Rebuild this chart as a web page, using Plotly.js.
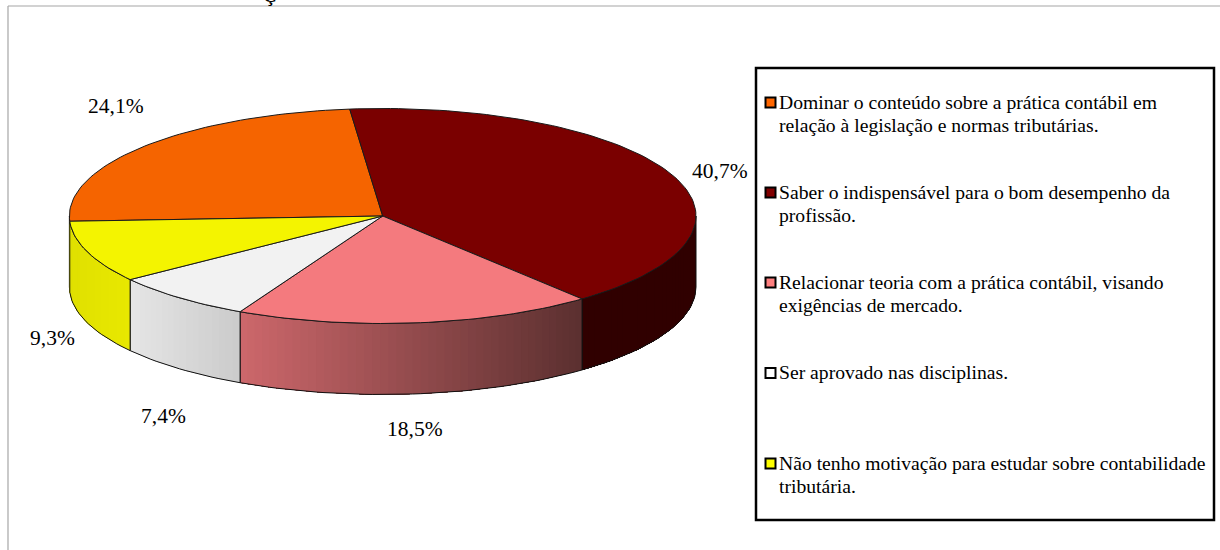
<!DOCTYPE html>
<html>
<head>
<meta charset="utf-8">
<script src="https://cdn.plot.ly/plotly-3.0.1.min.js"></script>
<style>html,body{margin:0;padding:0;background:#fff}#chart{width:1220px;height:550px}</style>
</head>
<body>
<div id="chart"></div>
<script>
// Data
var categories = [
  ["Dominar o conteúdo sobre a prática contábil em", "relação à legislação e normas tributárias."],
  ["Saber o indispensável para o bom desempenho da", "profissão."],
  ["Relacionar teoria com a prática contábil, visando", "exigências de mercado."],
  ["Ser aprovado nas disciplinas."],
  ["Não tenho motivação para estudar sobre contabilidade", "tributária."]
];
var values = [24.1, 40.7, 18.5, 7.4, 9.3];
var topColors = ["#F56400", "#7A0000", "#F47A7E", "#F2F2F2", "#F4F400"];
var keyColors = ["#FF6600", "#800000", "#FF8080", "#FFFFFF", "#FFFF00"];
var rimStart = [[240,100,0], [48,0,0], [206,104,108], [230,230,230], [224,224,0]];
var rimEnd = [[240,100,0], [48,0,0], [92,48,48], [204,204,204], [232,232,0]];

// Geometry of the tilted pie, in axis units (the axes span the page)
var CX = 382.7, CY = 216, RX = 313.3, RY = 107.5, DEPTH = 71, START = 267.2;
var labelPos = [[116,106],[720,171],[415,429],[163,416],[52,338]];
var legendY = [102.5,192.5,282.5,373,463.5];

function px(t){ return CX + RX*Math.sin(t*Math.PI/180); }
function py(t){ return CY - RY*Math.cos(t*Math.PI/180); }
function arc(a,b,dy){
  var n = Math.max(2, Math.ceil(Math.abs(b-a)/1.5)), xs=[], ys=[];
  for(var i=0;i<=n;i++){ var t=a+(b-a)*i/n; xs.push(px(t)); ys.push(py(t)+dy); }
  return {x:xs,y:ys};
}
function mix(c0,c1,f){
  return 'rgb('+c0.map(function(v,i){return Math.round(v+(c1[i]-v)*f);}).join(',')+')';
}
var traces=[], tops=[], a=START;
values.forEach(function(v,i){
  var b=a+v*3.6;
  // visible side wall: the part of the slice between 90 and 270 degrees
  [[a,b],[a-360,b-360]].forEach(function(r){
    var lo=Math.max(r[0],90), hi=Math.min(r[1],270);
    if(hi<=lo) return;
    var xA=px(hi), xB=px(lo), steps=Math.max(1,Math.ceil((hi-lo)/1.5));
    // strips are painted from the full remaining width down, so no seams show
    for(var s=0;s<steps;s++){
      var t0=lo+(hi-lo)*s/steps;
      var up=arc(t0,hi,0), dn=arc(hi,t0,DEPTH);
      var f=(px(t0)-xA)/Math.max(1,xB-xA);
      var col=mix(rimStart[i],rimEnd[i],f);
      traces.push({type:'scatter',mode:'lines',x:up.x.concat(dn.x),y:up.y.concat(dn.y),
        fill:'toself',fillcolor:col,line:{color:col,width:0},hoverinfo:'skip',showlegend:false});
    }
    var u=arc(lo,hi,0), d=arc(hi,lo,DEPTH);
    traces.push({type:'scatter',mode:'lines',x:u.x.concat(d.x,[u.x[0]]),y:u.y.concat(d.y,[u.y[0]]),
      line:{color:'#111',width:1},hoverinfo:'skip',showlegend:false});
  });
  var e=arc(a,b,0);
  tops.push({type:'scatter',mode:'lines',x:[CX].concat(e.x,[CX]),y:[CY].concat(e.y,[CY]),
    fill:'toself',fillcolor:topColors[i],line:{color:'#1a1a1a',width:1},
    hoverinfo:'skip',showlegend:false});
  a=b;
});
traces=traces.concat(tops);
// legend keys
traces.push({type:'scatter',mode:'markers',x:values.map(function(){return 770.5;}),y:legendY,
  marker:{symbol:'square',size:10,color:keyColors,line:{color:'#000',width:2}},
  hoverinfo:'skip',showlegend:false});

var serif='"Liberation Serif",serif';
var annotations=[];
values.forEach(function(v,i){
  annotations.push({x:labelPos[i][0],y:labelPos[i][1],xref:'x',yref:'y',showarrow:false,
    xanchor:'center',yanchor:'middle',text:v.toFixed(1).replace('.',',')+'%',
    font:{family:serif,size:21.5,color:'#000'}});
  categories[i].forEach(function(line,j){
    annotations.push({x:778,y:legendY[i]-0.7+j*23,xref:'x',yref:'y',showarrow:false,
      xanchor:'left',yanchor:'middle',align:'left',text:line,borderpad:0,
      font:{family:serif,size:19.65,color:'#000'}});
  });
});
// cut-off title: only the tail of its letter is inside the page, as in the reference
annotations.push({x:269.5,y:6.5,xref:'x',yref:'y',showarrow:false,xanchor:'center',yanchor:'bottom',
  text:'<b>Ç</b>',borderpad:0,font:{family:serif,size:19,color:'#000'}});

var layout={
  width:1220,height:550,margin:{l:0,r:0,t:0,b:0},
  paper_bgcolor:'#fff',plot_bgcolor:'#fff',showlegend:false,
  xaxis:{range:[0,1220],visible:false,fixedrange:true},
  yaxis:{range:[550,0],visible:false,fixedrange:true},
  shapes:[
    {type:'line',x0:8,x1:8,y0:6,y1:550,line:{color:'#a6a6a6',width:1.2}},
    {type:'line',x0:8,x1:1220,y0:6,y1:6,line:{color:'#a6a6a6',width:1.2}},
    {type:'rect',x0:756,x1:1214,y0:68,y1:520,line:{color:'#000',width:2.5},fillcolor:'rgba(0,0,0,0)'}
  ],
  annotations:annotations
};
Plotly.newPlot('chart',traces,layout,{displayModeBar:false,staticPlot:true});
</script>
</body>
</html>
